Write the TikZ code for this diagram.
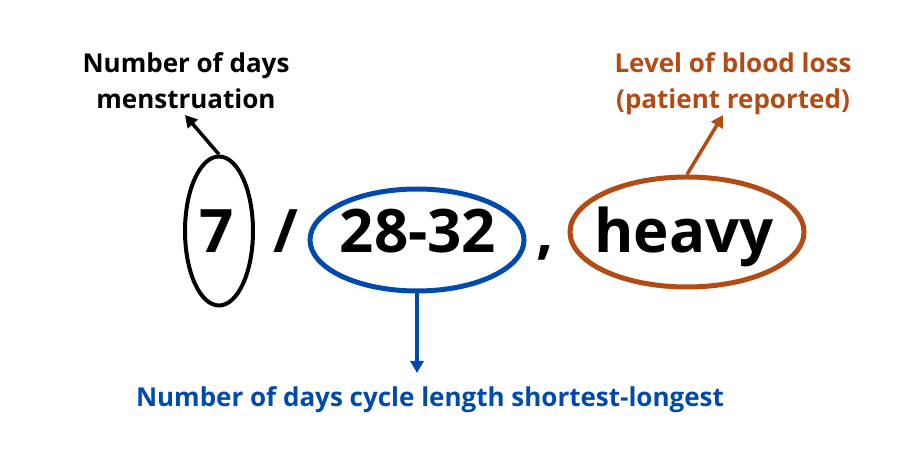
\documentclass[tikz,border=0pt]{standalone}
\usepackage{fontspec}
\setmainfont{Open Sans}
\usetikzlibrary{shapes.geometric, arrows.meta, positioning}
\definecolor{cycleblue}{RGB}{0,74,173}
\definecolor{lossbrown}{RGB}{178,75,20}

\begin{document}
\begin{tikzpicture}[
  x=1pt, y=1pt,
  >={Triangle[length=12pt,width=13pt]},
  bignum/.style={font=\fontsize{60}{60}\selectfont\bfseries, inner sep=0pt, anchor=base},
  ring/.style={draw, ellipse, line width=5pt, inner sep=0pt},
  notetext/.style={font=\fontsize{26}{36}\selectfont\bfseries, align=center, inner sep=0pt, anchor=north},
  pointer/.style={->, line width=3.5pt}
]
\useasboundingbox (0,0) rectangle (900,460);

% the record: days / cycle , loss
\node[bignum] (Days) at (217,207) {7};
\node[bignum] (Slash) at (286,207) {/};
\node[bignum] (Cycle) at (418,207) {28-32};
\node[bignum] (Comma) at (545,207) {,};
\node[bignum] (Loss) at (684,207) {heavy};

\node[ring, line width=4pt, minimum width=68pt, minimum height=149pt] (DaysRing) at (219,229) {};
\node[ring, draw=cycleblue, minimum width=214pt, minimum height=102pt] (CycleRing) at (417,220) {};
\node[ring, draw=lossbrown, minimum width=234pt, minimum height=110pt] (LossRing) at (687,228) {};

% explanations
\node[notetext] (DaysNote) at (186,408) {Number of days\\menstruation};
\node[notetext, text=lossbrown] (LossNote) at (733,408) {Level of blood loss\\(patient reported)};
\node[notetext, text=cycleblue] (CycleNote) at (430,74) {Number of days cycle length shortest-longest};

\coordinate (DaysTip) at (185,345);
\coordinate (LossTip) at (723,345);
\coordinate (CycleTip) at (417,87);

\draw[pointer] (DaysRing.north) -- (DaysTip);
\draw[pointer, lossbrown] (LossRing.north) -- (LossTip);
\draw[pointer, cycleblue] (CycleRing.south) -- (CycleTip);
\end{tikzpicture}
\end{document}
